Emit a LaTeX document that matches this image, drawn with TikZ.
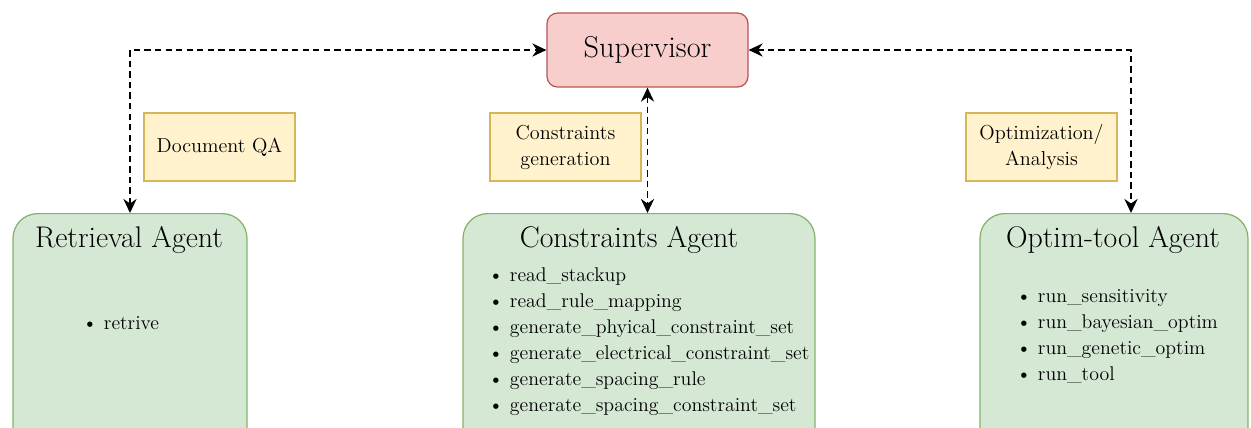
\documentclass[tikz,border=0pt]{standalone}
\usepackage{fontspec}
\usetikzlibrary{arrows.meta}

\definecolor{supfill}{HTML}{F8CECC}
\definecolor{supline}{HTML}{B85450}
\definecolor{tagfill}{HTML}{FFF2CC}
\definecolor{tagline}{HTML}{D6B656}
\definecolor{agentfill}{HTML}{D5E8D4}
\definecolor{agentline}{HTML}{82B366}

\tikzset{
  supbox/.style={draw=supline, fill=supfill, rounded corners=6pt, line width=0.7pt,
    minimum width=4.02cm, minimum height=1.48cm, font=\fontsize{17.2}{20}\selectfont},
  tagbox/.style={draw=tagline, fill=tagfill, line width=0.7pt, align=center,
    minimum width=3.02cm, minimum height=1.36cm, font=\fontsize{11.5}{14.8}\selectfont},
  agentbox/.style={draw=agentline, fill=agentfill, rounded corners=14pt, line width=0.7pt,
    minimum height=4.8cm, anchor=north},
  agenttitle/.style={font=\fontsize{17}{20}\selectfont},
  toollist/.style={align=left, anchor=north west, inner sep=0pt,
    font=\fontsize{11.3}{14.8}\selectfont},
  link/.style={draw=black, line width=1.1pt, dash pattern=on 3.6pt off 2.4pt,
    {Stealth[length=8pt,width=7.5pt]}-{Stealth[length=8pt,width=7.5pt]}}
}

\begin{document}
\begin{tikzpicture}[x=0.02cm, y=-0.02cm]
\useasboundingbox (0,0) rectangle (1251,427);
\clip (0,0) rectangle (1251,427);

% supervisor
\node[supbox] (sup) at (647.5,50) {Supervisor};

% agents
\node[agentbox, minimum width=4.68cm] (ret) at (130,213) {};
\node[agentbox, minimum width=7.04cm] (con) at (639,213) {};
\node[agentbox, minimum width=5.36cm] (opt) at (1114,213) {};

\node[agenttitle] (rettitle) at (129,240) {Retrieval Agent};
\node[agenttitle] (contitle) at (629,240) {Constraints Agent};
\node[agenttitle] (opttitle) at (1113,240) {Optim-tool Agent};

\node[toollist, anchor=west] (retlist) at (82,323) {\textbullet\ retrive};
\node[toollist] (conlist) at (488,267) {%
\textbullet\ read\_stackup\\
\textbullet\ read\_rule\_mapping\\
\textbullet\ generate\_phyical\_constraint\_set\\
\textbullet\ generate\_electrical\_constraint\_set\\
\textbullet\ generate\_spacing\_rule\\
\textbullet\ generate\_spacing\_constraint\_set};
\node[toollist] (optlist) at (1016,289) {%
\textbullet\ run\_sensitivity\\
\textbullet\ run\_bayesian\_optim\\
\textbullet\ run\_genetic\_optim\\
\textbullet\ run\_tool};

% labels
\node[tagbox] (qa) at (219.5,147) {Document QA};
\node[tagbox] (gen) at (565.5,147) {Constraints\\generation};
\node[tagbox] (ana) at (1041.5,147) {Optimization/\\Analysis};

% links
\coordinate (optin) at (1131,213);
\draw[link] (ret.north) |- (sup.west);
\draw[link] (sup.south) -- (sup.south |- con.north);
\draw[link] (sup.east) -| (optin);
\end{tikzpicture}
\end{document}
